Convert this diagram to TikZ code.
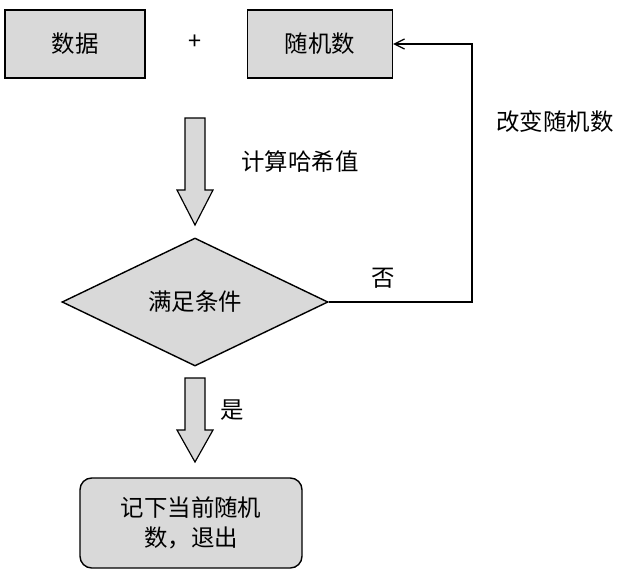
\documentclass[tikz,border=0pt]{standalone}
\usepackage{fontspec}
\setmainfont{Noto Sans CJK SC}
\usetikzlibrary{shapes.geometric,arrows.meta}
\definecolor{boxg}{HTML}{D9D9D9}
\begin{document}
\begin{tikzpicture}[x=0.03cm,y=-0.03cm,
  box/.style={draw,line width=1.2pt,fill=boxg,minimum width=4.2cm,minimum height=2.04cm,font=\fontsize{20}{26}\selectfont},
  lbl/.style={font=\fontsize{20}{26}\selectfont},
  barrow/.style={draw,line width=1pt,fill=boxg}]
\useasboundingbox (0,0) rectangle (638,578);
\node[box] (d) at (75,44) {数据};
\node[lbl] (plus) at (195,42) {+};
\node[box,minimum width=4.35cm] (r) at (320,44) {随机数};
\draw[barrow] (185,118) -- (205,118) -- (205,190) -- (213,190) -- (195,225) -- (177,190) -- (185,190) -- cycle;
\node[lbl] (calc) at (300,162) {计算哈希值};
\node[diamond,draw,line width=1.2pt,fill=boxg,minimum width=7.98cm,minimum height=3.84cm,inner sep=0pt,lbl] (c) at (195,302) {满足条件};
\coordinate (k) at (472,302);
\draw[line width=1pt,-{Straight Barb[length=3mm,width=3mm]}] (c.east) -- (k) |- (r.east);
\node[lbl] (no) at (383,278) {否};
\node[lbl] (chg) at (555,122) {改变随机数};
\draw[barrow] (185,378) -- (205,378) -- (205,430) -- (213,430) -- (195,462) -- (177,430) -- (185,430) -- cycle;
\node[lbl] (yes) at (232,410) {是};
\node[draw,line width=1.2pt,fill=boxg,rounded corners=10pt,minimum width=6.66cm,minimum height=2.7cm,align=center,lbl] (e) at (191,523) {记下当前随机\\数，退出};
\end{tikzpicture}
\end{document}
